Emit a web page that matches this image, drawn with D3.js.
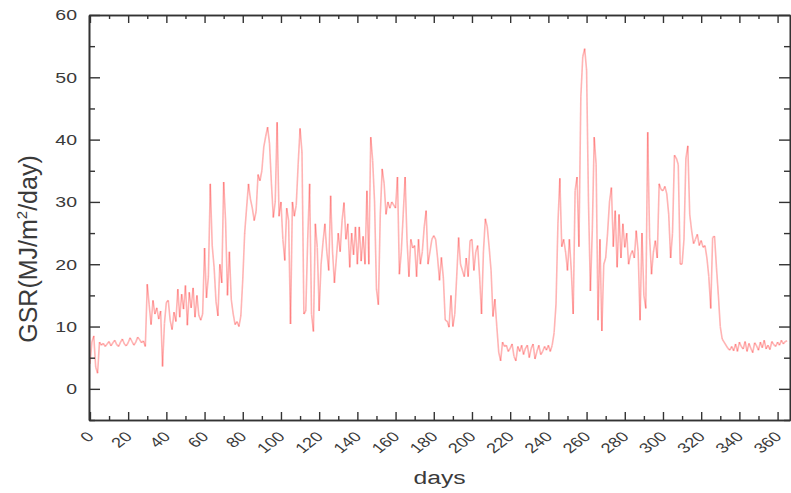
<!DOCTYPE html>
<html>
<head>
<meta charset="utf-8">
<script src="https://cdn.jsdelivr.net/npm/d3@7"></script>
<style>
  body { margin: 0; background: #fff; }
  text { font-family: "Liberation Sans", Arial, sans-serif; fill: #3a3a3a; }
</style>
</head>
<body>
<div id="chart"></div>
<script>
// daily global solar radiation, day 0..365
const gsr = [
  4.0, 7.5, 8.5, 3.5, 2.5, 7.5, 7.0, 7.3, 6.8, 7.2,
  7.6, 6.9, 7.4, 7.8, 7.1, 6.8, 7.5, 8.0, 7.2, 6.9,
  7.4, 8.2, 7.6, 7.0, 7.5, 8.3, 7.9, 7.4, 7.7, 6.8,
  16.8, 13.5, 10.3, 14.2, 12.0, 13.0, 11.2, 12.5, 3.6, 10.5,
  13.9, 14.2, 11.0, 9.5, 12.3, 10.8, 16.0, 11.5, 15.2, 12.8,
  16.6, 10.2, 15.5, 13.0, 16.2, 11.5, 15.0, 11.8, 11.0, 12.0,
  22.6, 14.6, 18.0, 32.9, 23.0, 19.5, 14.0, 11.7, 20.0, 17.0,
  33.2, 27.0, 15.0, 22.0, 14.3, 12.0, 10.3, 10.8, 10.0, 11.7,
  17.5, 25.0, 29.0, 32.9, 30.5, 29.0, 27.0, 28.5, 34.4, 33.4,
  35.0, 38.8, 40.5, 42.0, 39.4, 33.0, 27.5, 30.0, 42.8, 27.7,
  30.0, 24.0, 20.6, 29.0, 27.0, 10.4, 30.0, 27.7, 29.5, 36.0,
  41.8, 38.0, 12.0, 12.5, 24.0, 32.9, 12.0, 9.2, 26.5, 22.7,
  12.5, 20.0, 23.5, 26.5, 22.0, 19.0, 31.0, 22.0, 17.0, 21.0,
  25.0, 22.0, 27.0, 29.9, 24.0, 26.5, 19.5, 25.0, 21.5, 26.0,
  20.0, 26.0, 20.5, 24.5, 20.0, 31.8, 20.0, 40.4, 36.7, 30.0,
  16.0, 13.5, 28.0, 35.3, 33.0, 28.0, 30.0, 29.0, 30.0, 29.5,
  29.0, 34.0, 18.4, 22.0, 28.0, 34.0, 23.8, 18.0, 24.0, 22.6,
  23.0, 18.0, 24.0, 20.0, 22.0, 26.0, 28.6, 20.0, 22.0, 24.0,
  24.6, 24.0, 21.0, 17.4, 21.1, 17.9, 11.0, 10.9, 9.9, 15.0,
  10.0, 12.0, 18.0, 24.3, 20.0, 19.0, 18.0, 21.0, 18.0, 23.8,
  24.0, 19.0, 22.0, 23.0, 18.0, 12.0, 22.0, 27.3, 26.0, 22.7,
  19.0, 11.6, 14.4, 10.0, 5.9, 4.5, 7.5, 6.8, 7.0, 6.0,
  6.5, 7.2, 5.2, 4.5, 6.8, 6.0, 7.0, 5.5, 6.5, 7.0,
  5.0, 6.5, 7.2, 4.8, 6.0, 7.0, 5.5, 6.0, 6.8, 6.2,
  7.0, 6.0, 7.0, 9.0, 13.6, 26.5, 33.8, 22.8, 24.0, 22.0,
  19.0, 24.0, 19.0, 12.0, 31.8, 34.0, 22.8, 46.9, 53.3, 54.6,
  51.2, 30.0, 15.7, 25.4, 40.4, 36.0, 11.0, 24.0, 9.3, 20.0,
  21.0, 25.0, 30.0, 32.3, 22.8, 28.6, 19.5, 28.0, 21.0, 26.5,
  22.7, 25.0, 20.0, 21.5, 22.2, 21.0, 25.4, 22.0, 11.0, 25.0,
  15.0, 12.9, 41.2, 24.3, 18.4, 22.0, 23.8, 21.0, 32.9, 32.0,
  31.8, 32.5, 31.3, 28.0, 21.0, 25.0, 37.5, 37.0, 36.0, 20.0,
  20.0, 24.0, 37.0, 39.0, 28.0, 25.4, 23.3, 24.0, 24.8, 23.0,
  23.8, 22.7, 23.0, 21.0, 18.0, 12.9, 24.3, 24.5, 19.5, 15.0,
  10.0, 8.0, 7.5, 7.0, 6.5, 6.2, 6.8, 6.1, 7.2, 6.0,
  7.5, 6.8, 6.4, 7.6, 6.0, 7.3, 6.5, 5.8, 7.4, 6.9,
  6.2, 7.5, 6.6, 7.8, 6.4, 7.0, 6.3, 7.6, 7.1, 6.8,
  7.5, 7.0, 7.8, 7.2, 7.6, 7.7
];
const days = gsr.map((v, i) => i);

// tick labels
const xTicks = d3.range(0, 361, 20);
const xMinor = d3.range(10, 366, 20);
const yTicks = [0, 10, 20, 30, 40, 50, 60];
const yMinor = [-5, 5, 15, 25, 35, 45, 55];

const width = 791, height = 493;
const mLeft = 89, mRight = 790, mTop = 15, mBottom = 420;
const stretch = 1.3; // the original text looks widened horizontally

const svg = d3.select("#chart")
  .append("svg")
  .attr("width", width)
  .attr("height", height);

const x = d3.scaleLinear().domain([-0.5, 366.5]).range([mLeft, mRight]);
const y = d3.scaleLinear().domain([-5, 60]).range([mBottom, mTop]);

// the series: one segment per day pair, so overlaps get darker like the original
const pairs = d3.pairs(days);
svg.append("g")
  .selectAll("line")
  .data(pairs)
  .join("line")
  .attr("x1", d => x(d[0]))
  .attr("y1", d => y(gsr[d[0]]))
  .attr("x2", d => x(d[1]))
  .attr("y2", d => y(gsr[d[1]]))
  .attr("stroke", "#ff1a1a")
  .attr("stroke-opacity", 0.33)
  .attr("stroke-width", 1.6);

// axes, ticks point inward
function styleAxis(g) {
  g.select(".domain").attr("stroke", "#333").attr("stroke-width", 1.6);
  g.selectAll(".tick line").attr("stroke", "#333").attr("stroke-width", 1.4);
}

svg.append("g")
  .attr("transform", `translate(0,${mBottom})`)
  .call(d3.axisBottom(x).tickValues(xMinor).tickSize(-4).tickFormat("").tickSizeOuter(0))
  .call(styleAxis);
const xAxis = svg.append("g")
  .attr("transform", `translate(0,${mBottom})`)
  .call(d3.axisBottom(x).tickValues(xTicks).tickSize(-8).tickSizeOuter(0))
  .call(styleAxis);
xAxis.selectAll(".tick text")
  .attr("font-size", 14)
  .attr("text-anchor", "end")
  .attr("dy", "0.35em")
  .attr("y", 0)
  .attr("transform", `translate(0,14) scale(${stretch},1) rotate(-45)`);

svg.append("g")
  .attr("transform", `translate(0,${mTop})`)
  .call(d3.axisTop(x).tickValues(xMinor).tickSize(-4).tickFormat("").tickSizeOuter(0))
  .call(styleAxis);
svg.append("g")
  .attr("transform", `translate(0,${mTop})`)
  .call(d3.axisTop(x).tickValues(xTicks).tickSize(-8).tickFormat("").tickSizeOuter(0))
  .call(styleAxis);

svg.append("g")
  .attr("transform", `translate(${mLeft},0)`)
  .call(d3.axisLeft(y).tickValues(yMinor).tickSize(-6).tickFormat("").tickSizeOuter(0))
  .call(styleAxis);
const yAxis = svg.append("g")
  .attr("transform", `translate(${mLeft},0)`)
  .call(d3.axisLeft(y).tickValues(yTicks).tickSize(-11).tickSizeOuter(0))
  .call(styleAxis);
yAxis.selectAll(".tick text")
  .attr("font-size", 15)
  .attr("x", 0)
  .attr("transform", `translate(-12,0) scale(${stretch},1)`);

svg.append("g")
  .attr("transform", `translate(${mRight},0)`)
  .call(d3.axisRight(y).tickValues(yMinor).tickSize(-6).tickFormat("").tickSizeOuter(0))
  .call(styleAxis);
svg.append("g")
  .attr("transform", `translate(${mRight},0)`)
  .call(d3.axisRight(y).tickValues(yTicks).tickSize(-11).tickFormat("").tickSizeOuter(0))
  .call(styleAxis);

// axis titles
svg.append("text")
  .attr("transform", `translate(${(mLeft + mRight) / 2},484) scale(${stretch},1)`)
  .attr("text-anchor", "middle")
  .attr("font-size", 19)
  .text("days");

const yTitle = svg.append("text")
  .attr("transform", "translate(37,249) rotate(-90)")
  .attr("text-anchor", "middle")
  .attr("font-size", 25);
yTitle.append("tspan").text("GSR(MJ/m");
yTitle.append("tspan").attr("font-size", 15).attr("dy", -10).text("2");
yTitle.append("tspan").attr("dy", 10).text("/day)");
</script>
</body>
</html>
